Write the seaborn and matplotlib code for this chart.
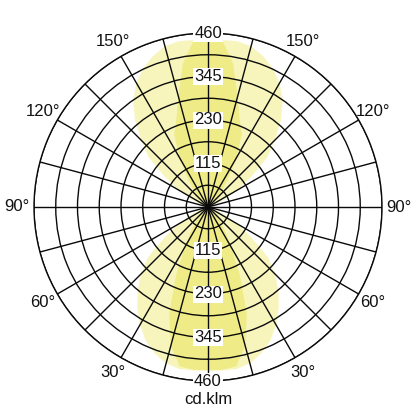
import numpy as np
import matplotlib
matplotlib.use("Agg")
import matplotlib.pyplot as plt
import seaborn as sns

# Ángulos gamma (0 = nadir, 180 = cenit) y curvas de intensidad en cd/klm
gamma = [0, 5, 10, 15, 20, 25, 30, 35, 40, 45, 50, 55, 60, 65, 70, 75, 80, 85, 90,
         95, 100, 105, 110, 115, 120, 125, 130, 135, 140, 145, 150, 155, 160, 165, 170, 175, 180]

wide_curve = [432, 434, 435, 428, 412, 390, 360, 326, 290, 250, 208, 140, 90, 50, 20, 5, 0, 0, 0,
              0, 0, 5, 20, 50, 90, 140, 205, 250, 300, 345, 378, 405, 425, 440, 445, 443, 441]

narrow_curve = [432, 432, 428, 380, 300, 200, 125, 80, 50, 30, 15, 6, 0, 0, 0, 0, 0, 0, 0,
                0, 0, 0, 0, 0, 0, 8, 18, 35, 60, 95, 150, 212, 245, 302, 384, 441, 441]

ring_labels = [115, 230, 345, 460]
angle_labels = [30, 60, 90, 120, 150]
unit_label = "cd.klm"

R_MAX = 460
RING_STEP = 57.5

sns.set_theme(style="white")
plt.rcParams['font.family'] = ['Liberation Sans', 'DejaVu Sans']


def mirrored(g, r):
    # cierra la curva reflejándola en el otro semiplano
    g = np.asarray(g, dtype=float)
    r = np.asarray(r, dtype=float)
    th = np.deg2rad(np.concatenate([g, 360 - g[::-1]]))
    rr = np.concatenate([r, r[::-1]])
    return th, rr


fig = plt.figure(figsize=(4.16, 4.16), dpi=100)
ax = fig.add_axes([34 / 416, 35 / 416, 348 / 416, 348 / 416], projection='polar')
ax.set_theta_zero_location('S')
ax.set_theta_direction(1)

th, rr = mirrored(gamma, wide_curve)
ax.fill(th, rr, color='#f7f5bc', lw=0, zorder=1)
th, rr = mirrored(gamma, narrow_curve)
ax.fill(th, rr, color='#efec88', lw=0, zorder=1.1)

ax.set_ylim(0, R_MAX)
ax.set_rticks(np.arange(RING_STEP, R_MAX + 1, RING_STEP))
ax.set_yticklabels([])
ax.set_thetagrids(np.arange(0, 360, 15), labels=[])
ax.set_axisbelow(False)
ax.grid(True, color='#0a0a0a', lw=1.0)
ax.spines['polar'].set_color('#0a0a0a')
ax.spines['polar'].set_linewidth(1.0)
ax.set_facecolor('white')

for v in ring_labels:
    for g in (0, 180):
        ax.text(np.deg2rad(g), v, str(v), ha='center', va='center', fontsize=12,
                color='#111111', zorder=5,
                bbox=dict(boxstyle='square,pad=0.06', fc='white', ec='none'))

for a in angle_labels:
    for g in (a, 360 - a):
        ax.text(np.deg2rad(g), 504, f"{a}°", ha='center', va='center', fontsize=12,
                color='#111111', clip_on=False)

fig.text(0.5, 1 - 400 / 416, unit_label, ha='center', va='center', fontsize=12, color='#111111')

fig.savefig('out.png', dpi=100, facecolor='white')
